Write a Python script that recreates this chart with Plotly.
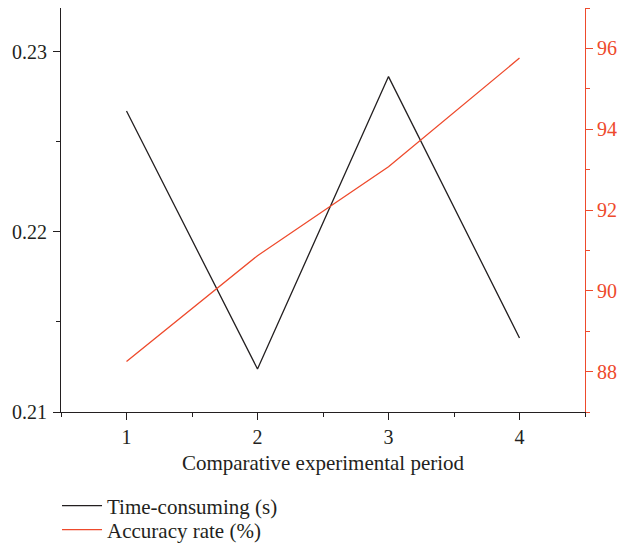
import plotly.graph_objects as go

periods = [1, 2, 3, 4]
time_consuming = [0.22672, 0.21239, 0.22863, 0.21411]
accuracy_rate = [88.25, 90.87, 93.07, 95.76]

black = "#231f20"
red = "#ee4a2c"
font_family = "Liberation Serif"

fig = go.Figure()
fig.add_trace(go.Scatter(x=periods, y=time_consuming, mode="lines",
                         name="Time-consuming (s)", legend="legend",
                         line=dict(color=black, width=1.3)))
fig.add_trace(go.Scatter(x=periods, y=accuracy_rate, mode="lines",
                         name="Accuracy rate (%)", yaxis="y2", legend="legend2",
                         line=dict(color=red, width=1.3)))

legend_common = dict(x=-0.0076, xanchor="left", yanchor="middle",
                     orientation="v", font=dict(size=21, color=black),
                     bgcolor="rgba(0,0,0,0)", itemwidth=40)

fig.update_layout(
    width=617, height=546,
    margin=dict(l=53, r=40, t=0, b=142, autoexpand=False),
    paper_bgcolor="white", plot_bgcolor="white",
    font=dict(family=font_family, size=20, color=black),
    showlegend=True,
    legend=dict(y=-0.2327, **legend_common),
    legend2=dict(y=-0.292, **legend_common),
    xaxis=dict(range=[0.5, 4.5], tick0=1, dtick=1,
               showgrid=False, zeroline=False, automargin=False,
               showline=True, linecolor=black, linewidth=1,
               ticks="outside", ticklen=7, tickcolor=black, tickwidth=1,
               minor=dict(ticks="outside", ticklen=4, dtick=0.5, tick0=0.5,
                          tickcolor=black, showgrid=False),
               title=dict(text="Comparative experimental period",
                          font=dict(size=21), standoff=8),
               tickfont=dict(size=20, color=black)),
    yaxis=dict(range=[0.21, 0.23244], tick0=0.21, dtick=0.01,
               showgrid=False, zeroline=False, automargin=False,
               showline=True, linecolor=black, linewidth=1,
               ticks="outside", ticklen=7, tickcolor=black, tickwidth=1,
               minor=dict(ticks="outside", ticklen=4, dtick=0.005,
                          tick0=0.21, tickcolor=black, showgrid=False),
               tickformat=".2f", ticklabelstandoff=2,
               tickfont=dict(size=20, color=black)),
    yaxis2=dict(range=[87, 97], tick0=88, dtick=2, overlaying="y",
                side="right", anchor="x", automargin=False,
                showgrid=False, zeroline=False,
                showline=True, linecolor=red, linewidth=1,
                ticks="outside", ticklen=7, tickcolor=red, tickwidth=1,
                minor=dict(ticks="outside", ticklen=4, dtick=1, tick0=87,
                           tickcolor=red, showgrid=False),
                tickfont=dict(size=20, color=red)),
)

fig.write_html("out.html")
